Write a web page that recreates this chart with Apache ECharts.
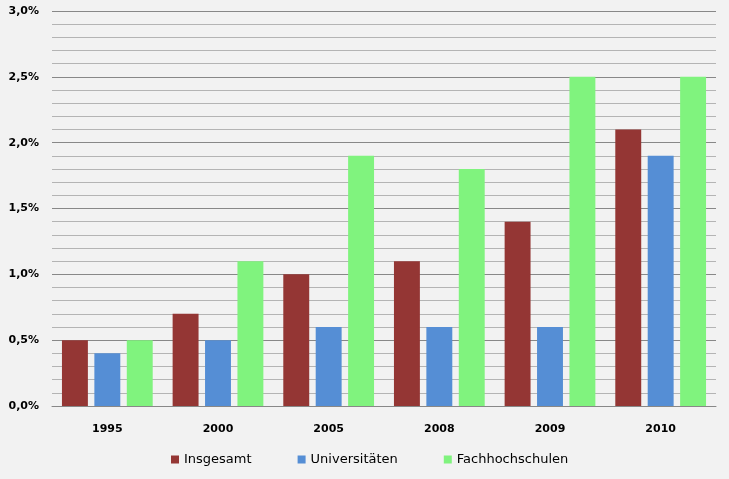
<!DOCTYPE html>
<html><head><meta charset="utf-8">
<script src="https://cdn.jsdelivr.net/npm/echarts@6/dist/echarts.min.js"></script>
<style>html,body{margin:0;padding:0;background:#f2f2f2;}#c{width:729px;height:479px;}</style>
</head><body><div id="c"></div>
<script>
const categories = ['1995','2000','2005','2008','2009','2010'];
const insgesamt = [0.5,0.7,1.0,1.1,1.4,2.1];
const universitaeten = [0.4,0.5,0.6,0.6,0.6,1.9];
const fachhochschulen = [0.5,1.1,1.9,1.8,2.5,2.5];
const seriesNames = ['Insgesamt','Universitäten','Fachhochschulen'];
const colors = ['#943634','#558ED5','#80F37E'];
const chart = echarts.init(document.getElementById('c'));
const font = 'DejaVu Sans, Verdana, sans-serif';
const bar = {type:'bar',itemStyle:{borderWidth:0},emphasis:{disabled:true}};
chart.setOption({
  backgroundColor:'#f2f2f2',
  animation:false,
  color:colors,
  grid:{left:52,right:13,top:11,bottom:73},
  legend:{bottom:8,left:166,itemWidth:8,itemHeight:8,itemGap:46,icon:'rect',
    textStyle:{fontFamily:font,fontSize:13,color:'#000'},data:seriesNames},
  xAxis:{type:'category',data:categories,
    axisLine:{show:true,lineStyle:{color:'#888888',width:1}},axisTick:{show:false},
    axisLabel:{fontFamily:font,fontWeight:'bold',fontSize:11,color:'#000',margin:18}},
  yAxis:{type:'value',min:0,max:3,interval:0.5,
    axisLine:{show:false},axisTick:{show:false},
    axisLabel:{fontFamily:font,fontWeight:'bold',fontSize:11,color:'#000',margin:13,
      formatter:v=>v.toFixed(1).replace('.',',')+'%'},
    splitLine:{lineStyle:{color:'#888888',width:1}},
    minorTick:{show:false,splitNumber:5},
    minorSplitLine:{show:true,lineStyle:{color:'#b4b4b4',width:1}}},
  series:[
    Object.assign({name:seriesNames[0],data:insgesamt,barGap:'25%',barCategoryGap:'18%'},bar),
    Object.assign({name:seriesNames[1],data:universitaeten},bar),
    Object.assign({name:seriesNames[2],data:fachhochschulen},bar)
  ]
});
</script></body></html>
